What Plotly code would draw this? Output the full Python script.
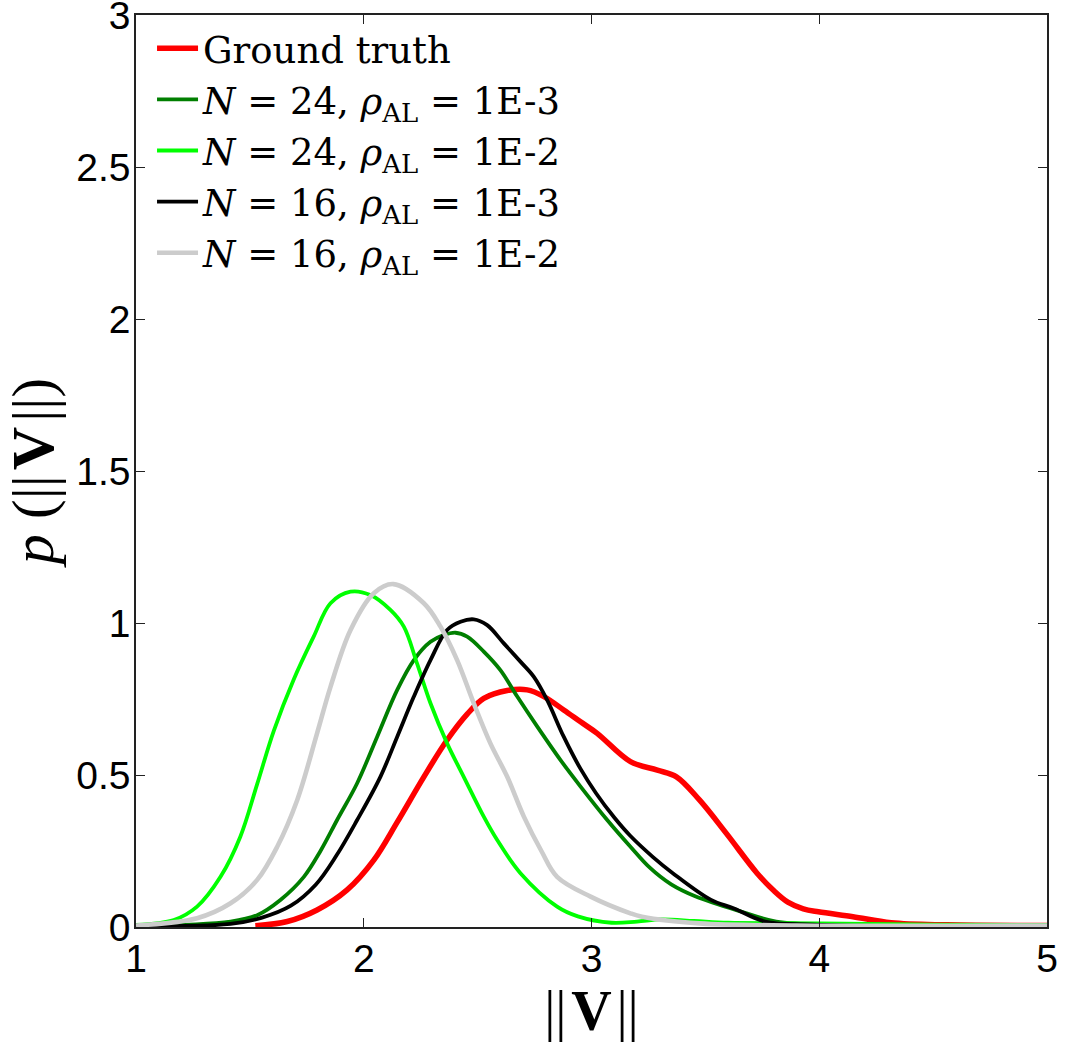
import plotly.graph_objects as go

# ---------------- data ----------------
gt_x = [1.524, 1.664, 1.795, 1.927, 2.044, 2.147, 2.264, 2.366, 2.454, 2.527, 2.63, 2.718,
        2.791, 2.878, 2.952, 3.025, 3.171, 3.289, 3.373, 3.474, 3.592, 3.727, 3.80, 3.862,
        3.93, 3.996, 4.148, 4.316, 4.56, 5.0]
gt_y = [0.004, 0.018, 0.056, 0.122, 0.22, 0.345, 0.494, 0.615, 0.70, 0.752, 0.778, 0.78,
        0.758, 0.714, 0.675, 0.637, 0.544, 0.516, 0.494, 0.418, 0.308, 0.177, 0.12, 0.082,
        0.06, 0.05, 0.034, 0.014, 0.007, 0.005]

n24_3_x = [1.0, 1.415, 1.532, 1.634, 1.737, 1.81, 1.883, 1.971, 2.059, 2.147, 2.22, 2.293,
           2.351, 2.403, 2.454, 2.527, 2.6, 2.674, 2.762, 2.864, 2.952, 3.069, 3.171, 3.256,
           3.35, 3.458, 3.66, 3.811, 4.08, 4.5, 5.0]
n24_3_y = [0.003, 0.018, 0.039, 0.089, 0.165, 0.25, 0.352, 0.473, 0.626, 0.78, 0.878, 0.938,
           0.96, 0.968, 0.955, 0.906, 0.845, 0.758, 0.659, 0.549, 0.462, 0.352, 0.264, 0.195,
           0.14, 0.1, 0.05, 0.018, 0.007, 0.005, 0.003]

n24_2_x = [1.0, 1.166, 1.268, 1.371, 1.458, 1.532, 1.605, 1.693, 1.78, 1.854, 1.942, 2.029,
           2.117, 2.176, 2.234, 2.293, 2.366, 2.439, 2.527, 2.586, 2.688, 2.849, 2.94, 3.088,
           3.2, 3.306, 3.45, 3.6, 4.0, 4.5, 5.0]
n24_2_y = [0.007, 0.023, 0.067, 0.165, 0.297, 0.47, 0.645, 0.815, 0.955, 1.065, 1.103, 1.092,
           1.043, 0.988, 0.867, 0.736, 0.604, 0.494, 0.363, 0.286, 0.177, 0.067, 0.035, 0.014,
           0.018, 0.025, 0.02, 0.014, 0.012, 0.008, 0.007]

n16_3_x = [1.0, 1.415, 1.55, 1.68, 1.79, 1.88, 1.971, 2.073, 2.147, 2.22, 2.293, 2.366,
           2.425, 2.483, 2.542, 2.615, 2.688, 2.747, 2.805, 2.878, 2.952, 3.02, 3.1, 3.17,
           3.27, 3.357, 3.525, 3.626, 3.761, 3.98, 4.5, 5.0]
n16_3_y = [0.002, 0.01, 0.03, 0.07, 0.14, 0.235, 0.352, 0.494, 0.626, 0.758, 0.878, 0.977,
           1.004, 1.012, 0.993, 0.933, 0.873, 0.823, 0.747, 0.626, 0.52, 0.44, 0.36, 0.30,
           0.23, 0.177, 0.089, 0.061, 0.018, 0.008, 0.002, 0.0]

n16_2_x = [1.0, 1.268, 1.415, 1.532, 1.62, 1.708, 1.795, 1.854, 1.942, 2.044, 2.13, 2.264,
           2.337, 2.41, 2.483, 2.556, 2.63, 2.703, 2.78, 2.849, 2.996, 3.171, 3.222, 3.474,
           3.9, 5.0]
n16_2_y = [0.005, 0.029, 0.078, 0.155, 0.264, 0.418, 0.637, 0.79, 0.977, 1.098, 1.128, 1.065,
           0.988, 0.878, 0.736, 0.604, 0.494, 0.363, 0.25, 0.165, 0.1, 0.045, 0.034, 0.012,
           0.005, 0.005]

series_names = [
    "Ground truth",
    "<i>N</i> = 24, <i>ρ</i><sub>AL</sub> = 1E-3",
    "<i>N</i> = 24, <i>ρ</i><sub>AL</sub> = 1E-2",
    "<i>N</i> = 16, <i>ρ</i><sub>AL</sub> = 1E-3",
    "<i>N</i> = 16, <i>ρ</i><sub>AL</sub> = 1E-2",
]
series_x = [gt_x, n24_3_x, n24_2_x, n16_3_x, n16_2_x]
series_y = [gt_y, n24_3_y, n24_2_y, n16_3_y, n16_2_y]
series_colors = ["#FF0000", "#007F00", "#00FF00", "#000000", "#CCCCCC"]
series_widths = [5.5, 3.8, 3.8, 3.8, 4.6]

x_ticks = [1, 2, 3, 4, 5]
y_ticks = [0, 0.5, 1, 1.5, 2, 2.5, 3]
y_ticklabels = ["0", "0.5", "1", "1.5", "2", "2.5", "3"]

# ---------------- figure ----------------
fig = go.Figure()
for name, xs, ys, col, w in zip(series_names, series_x, series_y, series_colors, series_widths):
    fig.add_trace(go.Scatter(
        x=xs, y=ys, name=name, mode="lines",
        line=dict(color=col, width=w, shape="spline", smoothing=1.0),
    ))

axis_common = dict(
    showgrid=False, zeroline=False,
    showline=True, linecolor="#222222", linewidth=1.5, mirror="ticks",
    ticks="inside", ticklen=9, tickwidth=1, tickcolor="#222222",
    ticklabeloverflow="allow",
    tickfont=dict(family="Liberation Sans, Arial, sans-serif", size=39, color="black"),
)

fig.update_layout(
    width=1075, height=1042,
    margin=dict(l=136, r=28, t=15, b=115, autoexpand=False),
    paper_bgcolor="white", plot_bgcolor="white",
    xaxis=dict(range=[1, 5], tickvals=x_ticks, ticktext=[str(t) for t in x_ticks],
               ticklabelstandoff=-4,
               title=dict(text="||\u200a<b>V</b>\u200a||", standoff=12,
                          font=dict(family="Liberation Serif, serif", size=56, color="black")),
               **axis_common),
    yaxis=dict(range=[0, 3], tickvals=y_ticks, ticktext=y_ticklabels,
               ticklabelstandoff=-4,
               title=dict(text="<i>p</i> (||\u200a<b>V</b>\u200a||)", standoff=10,
                          font=dict(family="Liberation Serif, serif", size=60, color="black")),
               **axis_common),
    legend=dict(
        x=0.0176, y=0.997, xanchor="left", yanchor="top",
        bgcolor="rgba(0,0,0,0)", borderwidth=0,
        font=dict(family="DejaVu Serif, serif", size=37, color="black"),
        itemwidth=41, tracegroupgap=0,
    ),
    showlegend=True,
)

fig.write_html("out.html")
